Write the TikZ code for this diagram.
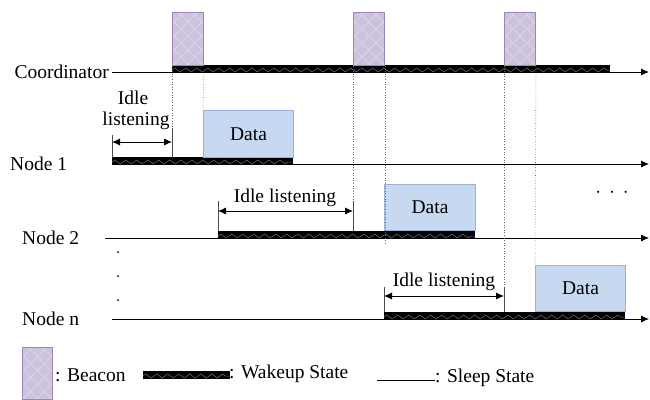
\documentclass[tikz,border=0pt]{standalone}
\usepackage{fontspec}
\setmainfont{Liberation Serif}
\usetikzlibrary{calc}
\usetikzlibrary{arrows.meta}
\usetikzlibrary{decorations.pathmorphing}

\definecolor{beaconfill}{HTML}{CDC2DD}
\definecolor{beaconline}{HTML}{9A86B8}
\definecolor{beaconhatch}{HTML}{DCD3E7}
\definecolor{datafill}{HTML}{C6D9F1}
\definecolor{dataline}{HTML}{95B3D7}

\tikzset{
  beacon/.style={draw=beaconline, line width=1pt, fill=beaconfill,
    path picture={
      \foreach \k in {-8,...,8}{
        \draw[beaconhatch, line width=0.8pt]
          ($(path picture bounding box.south west)+(\k*14pt,0)$) -- ++(70pt,70pt);
        \draw[beaconhatch, line width=0.8pt]
          ($(path picture bounding box.south east)+(\k*14pt,0)$) -- ++(-70pt,70pt);
      }
    }},
  databox/.style={draw=dataline, line width=1pt, fill=datafill},
  wakeup/.style={fill=black},
  zig/.style={draw=black!55, line width=0.5pt,
    decorate, decoration={zigzag, segment length=11pt, amplitude=2pt}},
  sleep/.style={line width=0.8pt},
  timeaxis/.style={line width=0.8pt, -{Latex[length=8pt,width=7pt]}},
  sync/.style={dotted, line width=0.6pt, black!60},
  tick/.style={line width=0.6pt, black!70},
  idle/.style={line width=0.8pt, {Latex[length=8pt,width=7pt]}-{Latex[length=8pt,width=7pt]}},
  lbl/.style={font=\rmfamily\fontsize{19.5}{22}\selectfont, inner sep=0pt}
}

% wakeup bar: x1, x2, y of the line
\newcommand{\wakebar}[3]{%
  \fill[wakeup] (#1,#3-7) rectangle (#2,#3+1);
  \draw[zig] (#1,#3-2) -- (#2,#3-2);
}

\begin{document}
\begin{tikzpicture}[x=1pt,y=-1pt]
  \useasboundingbox (0,0) rectangle (650,399);

  % time lines
  \node[lbl, anchor=east] (coord) at (109,72) {Coordinator};
  \node[lbl, anchor=west] (n1) at (10,164) {Node 1};
  \node[lbl, anchor=west] (n2) at (22,238) {Node 2};
  \node[lbl, anchor=west] (nn) at (22,319) {Node n};

  \coordinate (ce) at (649,72);
  \coordinate (e1) at (649,164);
  \coordinate (e2) at (649,238);
  \coordinate (en) at (649,319);
  \draw[timeaxis] (112,72) -- (ce);
  \draw[timeaxis] (112,164) -- (e1);
  \draw[timeaxis] (105,238) -- (e2);
  \draw[timeaxis] (112,319) -- (en);

  % wakeup states
  \wakebar{172}{610}{72}
  \wakebar{112}{293}{164}
  \wakebar{218}{475}{238}
  \wakebar{384}{625}{319}

  % beacons
  \node[beacon, minimum width=31pt, minimum height=53pt, anchor=north west] (b1) at (172,12) {};
  \node[beacon, minimum width=31pt, minimum height=53pt, anchor=north west] (b2) at (353,12) {};
  \node[beacon, minimum width=31pt, minimum height=53pt, anchor=north west] (b3) at (504,12) {};

  % data
  \node[databox, lbl, minimum width=90pt, minimum height=47pt, anchor=north west] (d1) at (203,110) {Data};
  \node[databox, lbl, minimum width=91pt, minimum height=46pt, anchor=north west] (d2) at (384,184) {Data};
  \node[databox, lbl, minimum width=90pt, minimum height=46pt, anchor=north west] (dn) at (535,265) {Data};

  % sync lines
  \draw[sync] (b1.south west) -- ++(0,60);
  \draw[sync] (b1.south east) -- (d1.north west);
  \draw[sync] (b2.south west) -- ++(0,140);
  \draw[sync] (b2.south east) -- ++(0,177);
  \draw[sync] (b3.south west) -- ++(0,222);
  \draw[sync] (b3.south east) -- (dn.north west);

  % idle listening
  \draw[tick] (112,135) -- (112,158);
  \draw[tick] (172,128) -- (172,158);
  \draw[idle] (112,142) -- (172,142);
  \node[lbl] (i1a) at (133,98) {Idle};
  \node[lbl] (i1b) at (136,121) {listening};

  \draw[tick] (218,201) -- (218,231);
  \draw[tick] (353,201) -- (353,231);
  \draw[idle] (218,211) -- (353,211);
  \node[lbl] (i2) at (285,198) {Idle listening};

  \draw[tick] (384,287) -- (384,312);
  \draw[tick] (504,287) -- (504,312);
  \draw[idle] (384,296) -- (504,296);
  \node[lbl] (in) at (444,282) {Idle listening};

  % dots
  \node[lbl] (hdots) at (612,193) {$\cdot\,\cdot\,\cdot$};
  \foreach \y in {252,276,300}
    \fill (118,\y) circle (1pt);

  % legend
  \node[beacon, minimum width=30pt, minimum height=52pt, anchor=north west] (lb) at (22,347) {};
  \node[lbl, anchor=west] (lbt) at (55,375) {: Beacon};
  \wakebar{143}{230}{378}
  \node[lbl, anchor=west] (lwt) at (229,374) {: Wakeup State};
  \draw[sleep] (377,380) -- (435,380);
  \node[lbl, anchor=west] (lst) at (435,378) {: Sleep State};
\end{tikzpicture}
\end{document}
